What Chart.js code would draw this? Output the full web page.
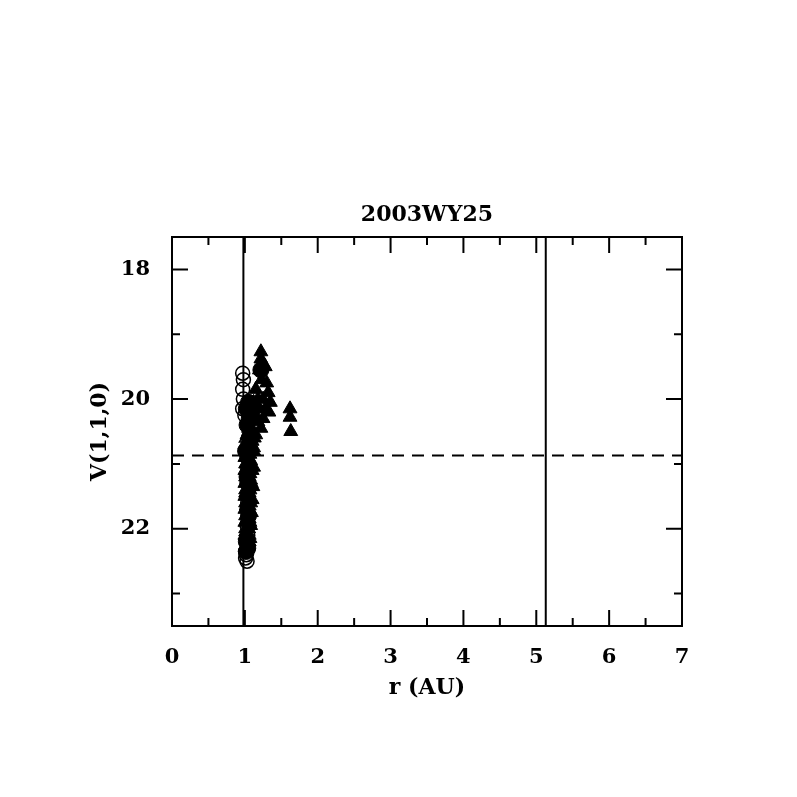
<!DOCTYPE html>
<html>
<head>
<meta charset="utf-8">
<script src="https://cdn.jsdelivr.net/npm/chart.js@4/dist/chart.umd.min.js"></script>
<style>
  body { margin: 0; background: #ffffff; }
  #wrap { width: 797px; height: 797px; }
</style>
</head>
<body>
<div id="wrap"><canvas id="plot" width="797" height="797"></canvas></div>
<script>
const chartTitle = '2003WY25';
const xTitle = 'r (AU)';
const yTitle = 'V(1,1,0)';
const xTicks = [0, 1, 2, 3, 4, 5, 6, 7];
const yTicks = [18, 20, 22];

// reference lines
const innerLineX = 0.98;
const outerLineX = 5.13;
const limitMag = 20.87;

// open circles
const openCircleX = [0.97, 0.98, 0.97, 0.98, 0.97, 1.00, 1.03, 1.04, 1.03, 1.04, 1.03, 1.04, 1.04, 1.01, 1.02, 1.03, 1.01, 1.03, 1.04, 1.03];
const openCircleY = [19.6, 19.7, 19.85, 20.0, 20.15, 20.25, 20.9, 21.1, 21.3, 21.5, 21.7, 21.9, 22.1, 22.35, 22.4, 22.5, 22.45, 21.2, 21.6, 21.95];

// filled triangles
const triX = [1.22, 1.22, 1.25, 1.20, 1.28, 1.23, 1.15, 1.30, 1.18, 1.25, 1.32, 1.12, 1.20, 1.28, 1.35, 1.33, 1.25, 1.18, 1.22, 1.15, 1.10, 1.08, 1.12,
              1.62, 1.62, 1.63,
              1.05, 1.08, 1.10, 1.06, 1.09, 1.07, 1.05, 1.08, 1.06, 1.04, 1.07, 1.05, 1.03, 1.06, 1.04,
              1.02, 1.03, 1.01, 1.02, 1.03, 1.01, 1.02, 1.12, 1.11, 1.10, 1.09, 1.08, 1.07,
              1.00, 1.01, 1.00, 1.01, 1.00, 1.01, 1.00, 1.01, 1.00, 1.01, 1.00, 1.01, 1.00, 1.01, 1.00,
              1.07, 1.08, 1.07, 1.08, 1.07, 1.06, 1.07, 1.06, 1.07, 1.06, 1.05, 1.06, 1.05, 1.05,
              1.13, 1.12, 1.10, 1.08, 1.15, 1.05, 1.03];
const triY = [19.27, 19.38, 19.45, 19.55, 19.5, 19.7, 19.85, 19.75, 20.0, 20.0, 19.9, 20.05, 20.15, 20.15, 20.05, 20.2, 20.3, 20.35, 20.45, 20.55, 20.5, 20.7, 20.8,
              20.15, 20.28, 20.5,
              20.9, 21.0, 21.1, 21.2, 21.3, 21.4, 21.5, 21.6, 21.7, 21.8, 21.9, 22.0, 22.1, 22.2, 22.3,
              21.0, 21.25, 21.45, 21.65, 21.85, 22.05, 22.25, 21.05, 21.35, 21.55, 21.75, 21.95, 22.15,
              20.7, 20.8, 20.9, 21.0, 21.1, 21.2, 21.3, 21.4, 21.5, 21.6, 21.7, 21.8, 21.9, 22.0, 22.1,
              20.85, 20.95, 21.15, 21.25, 21.35, 21.45, 21.55, 21.65, 21.75, 21.85, 22.0, 22.1, 22.2, 22.25,
              20.6, 20.75, 20.65, 20.55, 20.25, 20.45, 20.55];

// filled circles
const dotX = [1.22, 1.02, 1.05, 1.08, 1.03, 1.06, 1.01, 1.04, 1.02, 1.06, 1.03, 1.05, 1.02];
const dotY = [19.55, 20.15, 20.05, 20.2, 20.4, 20.6, 20.8, 22.3, 22.35, 20.3, 21.2, 21.8, 22.2];

// open triangles
const openTriX = [1.12, 1.05, 1.02];
const openTriY = [20.3, 20.4, 20.6];

function pairs(xs, ys) {
    return xs.map((x, i) => ({x: x, y: ys[i]}));
}

// box, inward ticks on all four sides and the text labels
const framePlugin = {
    id: 'frame',
    afterDatasetsDraw(chart) {
        const ctx = chart.ctx;
        const a = chart.chartArea;
        const xs = chart.scales.x;
        const ys = chart.scales.y;
        ctx.save();
        ctx.strokeStyle = '#000';
        ctx.lineWidth = 2;
        ctx.strokeRect(a.left, a.top, a.right - a.left, a.bottom - a.top);
        ctx.beginPath();
        for (let v = xs.min; v <= xs.max + 1e-9; v += 0.5) {
            const px = xs.getPixelForValue(v);
            const len = Number.isInteger(v) ? 16 : 8;
            ctx.moveTo(px, a.bottom); ctx.lineTo(px, a.bottom - len);
            ctx.moveTo(px, a.top); ctx.lineTo(px, a.top + len);
        }
        for (let v = 18; v <= 23; v += 1) {
            const py = ys.getPixelForValue(v);
            const len = v % 2 === 0 ? 16 : 8;
            ctx.moveTo(a.left, py); ctx.lineTo(a.left + len, py);
            ctx.moveTo(a.right, py); ctx.lineTo(a.right - len, py);
        }
        ctx.stroke();

        ctx.fillStyle = '#000';
        ctx.textAlign = 'center';
        ctx.textBaseline = 'middle';
        ctx.font = 'bold 22px "DejaVu Serif"';
        ctx.fillText(chartTitle, (a.left + a.right) / 2, 215);
        ctx.fillText(xTitle, (a.left + a.right) / 2, 688);
        ctx.translate(100, (a.top + a.bottom) / 2);
        ctx.rotate(-Math.PI / 2);
        ctx.fillText(yTitle, 0, 0);
        ctx.restore();
    }
};

const graph = document.getElementById('plot').getContext('2d');

new Chart(graph, {
    type: 'scatter',
    data: {
        datasets: [
            {
                label: 'r limit 1',
                data: [{x: innerLineX, y: 17.5}, {x: innerLineX, y: 23.5}],
                showLine: true,
                borderColor: '#000',
                borderWidth: 2,
                pointRadius: 0
            },
            {
                label: 'r limit 2',
                data: [{x: outerLineX, y: 17.5}, {x: outerLineX, y: 23.5}],
                showLine: true,
                borderColor: '#000',
                borderWidth: 2,
                pointRadius: 0
            },
            {
                label: 'V limit',
                data: [{x: 0, y: limitMag}, {x: 7, y: limitMag}],
                showLine: true,
                borderColor: '#000',
                borderWidth: 2,
                borderDash: [12, 8],
                pointRadius: 0
            },
            {
                label: 'open circles',
                data: pairs(openCircleX, openCircleY),
                pointStyle: 'circle',
                pointRadius: 7,
                borderColor: '#000',
                borderWidth: 1.5,
                backgroundColor: 'rgba(0,0,0,0)'
            },
            {
                label: 'filled circles',
                data: pairs(dotX, dotY),
                pointStyle: 'circle',
                pointRadius: 8,
                borderColor: '#000',
                borderWidth: 1,
                backgroundColor: '#000'
            },
            {
                label: 'filled triangles',
                data: pairs(triX, triY),
                pointStyle: 'triangle',
                pointRadius: 8,
                borderColor: '#000',
                borderWidth: 1,
                backgroundColor: '#000'
            },
            {
                label: 'open triangles',
                data: pairs(openTriX, openTriY),
                pointStyle: 'triangle',
                pointRadius: 8,
                borderColor: '#000',
                borderWidth: 1.5,
                backgroundColor: '#fff'
            }
        ]
    },
    options: {
        responsive: false,
        animation: false,
        layout: {padding: {top: 237, right: 115, left: 0, bottom: 0}},
        plugins: {
            legend: {display: false},
            tooltip: {enabled: false}
        },
        scales: {
            x: {
                type: 'linear',
                min: 0,
                max: 7,
                grid: {display: false},
                border: {display: false},
                afterBuildTicks: scale => { scale.ticks = xTicks.map(v => ({value: v})); },
                afterFit: scale => { scale.height = 171; },
                ticks: {
                    color: '#000',
                    padding: 11,
                    maxRotation: 0,
                    font: {family: 'DejaVu Serif', size: 21, weight: 'bold'}
                }
            },
            y: {
                type: 'linear',
                min: 17.5,
                max: 23.5,
                reverse: true,
                grid: {display: false},
                border: {display: false},
                afterBuildTicks: scale => { scale.ticks = yTicks.map(v => ({value: v})); },
                afterFit: scale => { scale.width = 172; },
                ticks: {
                    color: '#000',
                    padding: 14,
                    font: {family: 'DejaVu Serif', size: 21, weight: 'bold'}
                }
            }
        }
    },
    plugins: [framePlugin]
});
</script>
</body>
</html>
